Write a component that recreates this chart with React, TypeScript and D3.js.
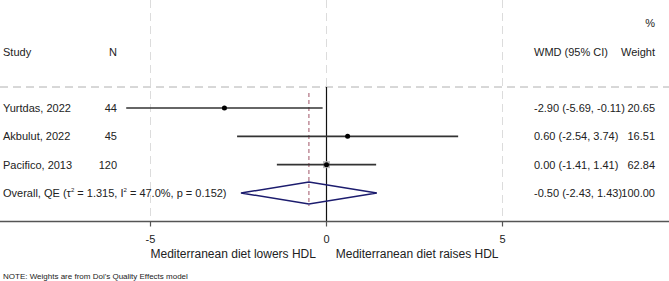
import React from "react";
import * as d3 from "d3";

const studies = ["Yurtdas, 2022", "Akbulut, 2022", "Pacifico, 2013"];
const nValues = [44, 45, 120];
const wmd = [-2.9, 0.6, 0.0];
const lower = [-5.69, -2.54, -1.41];
const upper = [-0.11, 3.74, 1.41];
const weights = [20.65, 16.51, 62.84];
const ciLabels = ["-2.90 (-5.69, -0.11)", "0.60 (-2.54, 3.74)", "0.00 (-1.41, 1.41)"];
const weightLabels = ["20.65", "16.51", "62.84"];
const overall = { est: -0.5, lo: -2.43, hi: 1.43 };
const overallCI = "-0.50 (-2.43, 1.43)";
const overallWeight = "100.00";
const xTicks = [-5, 0, 5];

const W = 669;
const H = 281;
const FONT = "'Liberation Sans', Arial, sans-serif";

export default function App() {
  const x = d3.scaleLinear().domain([-5, 5]).range([150.5, 502.5]);
  const rowY = d3.scalePoint<number>().domain([0, 1, 2, 3]).range([108, 193]);
  const axisY = 221.5;
  const headerLineY = 87;
  const boxScale = d3.scaleSqrt().domain([0, 62.84]).range([0, 7]);
  const txt = "#222";

  return (
    <svg width={W} height={H} style={{ position: "absolute", left: 0, top: 0 }} fontFamily={FONT}>
      <rect width={W} height={H} fill="#fff" />
      {xTicks.map((t) => (
        <line key={"g" + t} x1={x(t)} x2={x(t)} y1={0} y2={t === 0 ? headerLineY : axisY}
          stroke="#dcdcdc" strokeWidth={1} strokeDasharray="8,5" />
      ))}
      <line x1={0} x2={W} y1={headerLineY} y2={headerLineY} stroke="#b0b0b0" strokeWidth={1} strokeDasharray="8,5" />
      <line x1={x(0)} x2={x(0)} y1={headerLineY} y2={axisY} stroke="#111" strokeWidth={1.2} />
      <line x1={x(overall.est)} x2={x(overall.est)} y1={93} y2={206} stroke="#b07080" strokeWidth={1.2} strokeDasharray="4,3" />
      {studies.map((s, i) => {
        const y = rowY(i)!;
        const b = boxScale(weights[i]);
        return (
          <g key={s}>
            <rect x={x(wmd[i]) - b / 2} y={y - b / 2} width={b} height={b} fill="#bbb" />
            <line x1={x(lower[i])} x2={x(upper[i])} y1={y} y2={y} stroke="#333" strokeWidth={1.6} />
            <circle cx={x(wmd[i])} cy={y} r={2.5} fill="#000" />
            <text x={3} y={y} dy="0.35em" fontSize={11} fill={txt}>{s}</text>
            <text x={117} y={y} dy="0.35em" fontSize={11} fill={txt} textAnchor="end">{nValues[i]}</text>
            <text x={534} y={y} dy="0.35em" fontSize={11} fill={txt}>{ciLabels[i]}</text>
            <text x={655} y={y} dy="0.35em" fontSize={11} fill={txt} textAnchor="end">{weightLabels[i]}</text>
          </g>
        );
      })}
      {(() => {
        const y = rowY(3)!;
        const pts: [number, number][] = [
          [x(overall.lo), y], [x(overall.est), y - 11], [x(overall.hi), y], [x(overall.est), y + 11],
        ];
        return (
          <g>
            <polygon points={pts.map((p) => p.join(",")).join(" ")} fill="none" stroke="#1c1c6e" strokeWidth={1.5} />
            <text x={3} y={y} dy="0.35em" fontSize={11} fill={txt}>
              Overall, QE (τ<tspan fontSize={6} dy="-5">2</tspan><tspan dy="5"> = 1.315, I</tspan><tspan fontSize={6} dy="-5">2</tspan><tspan dy="5"> = 47.0%, p = 0.152)</tspan>
            </text>
            <text x={534} y={y} dy="0.35em" fontSize={11} fill={txt}>{overallCI}</text>
            <text x={655} y={y} dy="0.35em" fontSize={11} fill={txt} textAnchor="end">{overallWeight}</text>
          </g>
        );
      })()}
      <text x={3} y={52} dy="0.35em" fontSize={11} fill={txt}>Study</text>
      <text x={117} y={52} dy="0.35em" fontSize={11} fill={txt} textAnchor="end">N</text>
      <text x={534} y={52} dy="0.35em" fontSize={11} fill={txt}>WMD (95% CI)</text>
      <text x={655} y={52} dy="0.35em" fontSize={11} fill={txt} textAnchor="end">Weight</text>
      <text x={655} y={23} dy="0.35em" fontSize={11} fill={txt} textAnchor="end">%</text>
      <line x1={0} x2={W} y1={axisY} y2={axisY} stroke="#555" strokeWidth={1.5} />
      {xTicks.map((t) => (
        <g key={"t" + t}>
          <line x1={x(t)} x2={x(t)} y1={axisY} y2={axisY + 5} stroke="#555" strokeWidth={1.2} />
          <text x={x(t)} y={239.5} dy="0.35em" fontSize={11} fill={txt} textAnchor="middle">{t}</text>
        </g>
      ))}
      <text x={x(-5)} y={254} dy="0.35em" fontSize={12} fill={txt} textAnchor="start">Mediterranean diet lowers HDL</text>
      <text x={x(5) - 4} y={254} dy="0.35em" fontSize={12} fill={txt} textAnchor="end">Mediterranean diet raises HDL</text>
      <text x={3} y={276.5} dy="0.35em" fontSize={8} fill={txt}>NOTE: Weights are from Doi's Quality Effects model</text>
    </svg>
  );
}
